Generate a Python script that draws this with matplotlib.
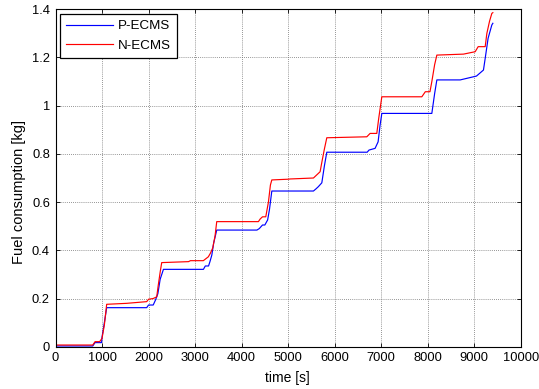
import matplotlib
matplotlib.use("Agg")
import matplotlib.pyplot as plt

plt.rcParams['font.family'] = ['Liberation Sans', 'DejaVu Sans']

# P-ECMS (blue)
p_time = [0, 800, 850, 990, 1000, 1050, 1100,
          1960, 2000, 2100, 2150, 2200, 2250, 2320,
          3180, 3220, 3290, 3320, 3360, 3400, 3466,
          4330, 4380, 4450, 4500, 4560, 4600, 4650,
          5545, 5600, 5650, 5725, 5780, 5832,
          6700, 6740, 6870, 6935, 6978, 7015,
          8090, 8150, 8198,
          8700, 9050, 9200, 9240, 9300, 9380, 9402]
p_fuel = [0.003, 0.003, 0.017, 0.017, 0.04, 0.10, 0.162,
          0.162, 0.173, 0.173, 0.194, 0.22, 0.28, 0.321,
          0.321, 0.335, 0.335, 0.353, 0.38, 0.43, 0.484,
          0.484, 0.49, 0.505, 0.505, 0.526, 0.57, 0.646,
          0.646, 0.655, 0.664, 0.68, 0.75, 0.807,
          0.807, 0.816, 0.823, 0.85, 0.92, 0.968,
          0.968, 1.05, 1.107,
          1.107, 1.123, 1.148, 1.2, 1.28, 1.335, 1.342]

# N-ECMS (red)
n_time = [0, 800, 850, 950, 1000, 1050, 1100,
          1530, 1960, 2000, 2100, 2176, 2205, 2250, 2283,
          2860, 2900, 3178, 3285, 3330, 3380, 3430, 3466,
          4362, 4400, 4450, 4520, 4577, 4620, 4650,
          5000, 5043, 5545, 5600, 5688, 5730, 5780, 5832,
          6692, 6763, 6907, 6950, 7015,
          7875, 7950, 8050, 8090, 8150, 8198,
          8770, 9022, 9086, 9237, 9273, 9330, 9380, 9402]
n_fuel = [0.007, 0.007, 0.021, 0.021, 0.035, 0.09, 0.176,
          0.18, 0.187, 0.197, 0.2, 0.207, 0.25, 0.31, 0.349,
          0.353, 0.357, 0.357, 0.373, 0.388, 0.41, 0.46, 0.519,
          0.519, 0.53, 0.539, 0.539, 0.6, 0.671, 0.692,
          0.695, 0.696, 0.70, 0.71, 0.726, 0.77, 0.82, 0.867,
          0.871, 0.885, 0.885, 0.95, 1.037,
          1.037, 1.058, 1.058, 1.1, 1.17, 1.21,
          1.214, 1.224, 1.245, 1.245, 1.3, 1.35, 1.383, 1.386]

x_ticks = [0, 1000, 2000, 3000, 4000, 5000, 6000, 7000, 8000, 9000, 10000]
y_ticks = [0, 0.2, 0.4, 0.6, 0.8, 1.0, 1.2, 1.4]
y_tick_labels = ["0", "0.2", "0.4", "0.6", "0.8", "1", "1.2", "1.4"]

fig = plt.figure(figsize=(5.39, 3.89), dpi=100)
ax = fig.add_axes([0.103, 0.1087, 0.863, 0.8674])

ax.plot(p_time, p_fuel, color='#0000ff', lw=0.85, label='P-ECMS')
ax.plot(n_time, n_fuel, color='#ff0000', lw=0.85, label='N-ECMS')

ax.set_xlim(0, 10000)
ax.set_ylim(0, 1.4)
ax.set_xticks(x_ticks)
ax.set_xticklabels([str(t) for t in x_ticks])
ax.set_yticks(y_ticks)
ax.set_yticklabels(y_tick_labels)
ax.tick_params(direction='in', length=3, width=0.6, labelsize=9.3,
               top=True, right=True, pad=4)
ax.grid(True, color='0.45', linestyle=(0, (1, 1.5)), linewidth=0.6)
for s in ax.spines.values():
    s.set_linewidth(0.8)
    s.set_color('black')

ax.set_xlabel('time [s]', fontsize=10)
ax.set_ylabel('Fuel consumption [kg]', fontsize=10.5)

# place axis labels (pixel-based positions in figure coords)
ax.xaxis.set_label_coords(287 / 539, 1 - 385 / 389, transform=fig.transFigure)
ax.xaxis.label.set_va('bottom')
ax.yaxis.set_label_coords(12 / 539, 1 - 192 / 389, transform=fig.transFigure)
ax.yaxis.label.set_va('top')

leg = ax.legend(loc='upper left', fontsize=9.6, frameon=True, fancybox=False,
                edgecolor='black', borderaxespad=0.35, handlelength=3.5,
                handletextpad=0.4, borderpad=0.45, labelspacing=0.55)
leg.get_frame().set_linewidth(0.9)
leg.get_frame().set_alpha(1)

fig.savefig('out.png', dpi=100)
